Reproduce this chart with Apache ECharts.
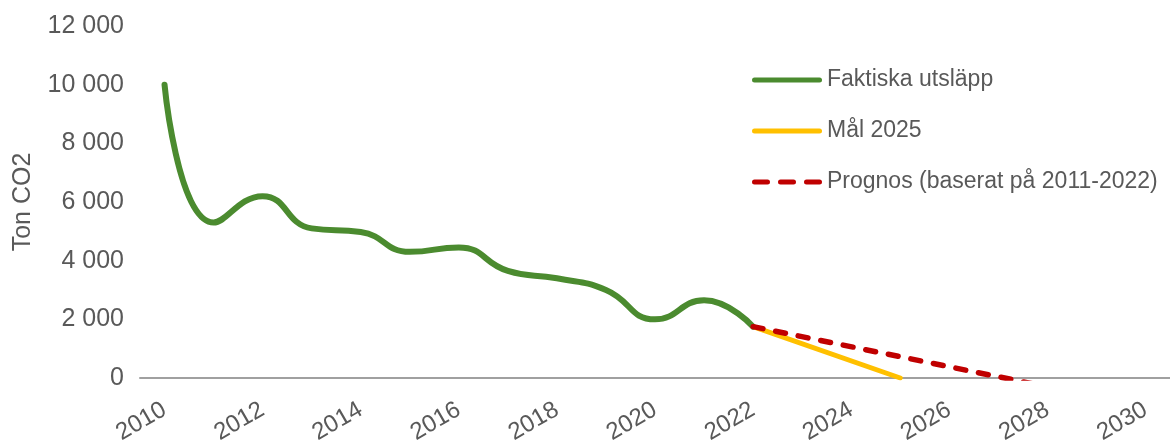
<!DOCTYPE html>
<html>
<head>
<meta charset="utf-8">
<script src="https://cdn.jsdelivr.net/npm/echarts@6/dist/echarts.min.js"></script>
<style>
html,body{margin:0;padding:0;background:#fff;}
#chart{width:1170px;height:443px;}
</style>
</head>
<body>
<div id="chart"></div>
<script>
var years = ['2010','2011','2012','2013','2014','2015','2016','2017','2018','2019','2020',
             '2021','2022','2023','2024','2025','2026','2027','2028','2029','2030'];
// faktiska utsläpp, ton CO2
var actual = [10000, 5300, 6200, 5100, 4980, 4300, 4450, 3650, 3400, 3000, 2000, 2650, 1750];
// mål 2025: från 2022 till noll 2025
var goal = [null,null,null,null,null,null,null,null,null,null,null,null, 1750, null, null, 0];
// prognos (linjär trend), klipps vid 0
var forecast = [null,null,null,null,null,null,null,null,null,null,null,null, 1750, null, null, null, null, null, -300];

var chart = echarts.init(document.getElementById('chart'));

var textColor = '#595959';
var font = 'Liberation Sans, Arial, sans-serif';
var green = '#4b8b2f', yellow = '#ffc000', red = '#c00000';

// legend-ikoner: heldragen linje resp. streckad
var solidIcon = 'path://M2.5,0h65a2.5,2.5 0 0 1 0,5h-65a2.5,2.5 0 0 1 0,-5z';
var dashIcon = 'path://M2.5,0h13a2.5,2.5 0 0 1 0,5h-13a2.5,2.5 0 0 1 0,-5z' +
               'M28.5,0h13a2.5,2.5 0 0 1 0,5h-13a2.5,2.5 0 0 1 0,-5z' +
               'M54.5,0h13a2.5,2.5 0 0 1 0,5h-13a2.5,2.5 0 0 1 0,-5z';

chart.setOption({
    backgroundColor: '#fff',
    animation: false,
    textStyle: { fontFamily: font, color: textColor },
    grid: { left: 140, right: 0, top: 26, bottom: 65, outerBoundsMode: 'none' },
    legend: {
        orient: 'vertical',
        left: 752,
        top: 68,
        padding: 0,
        itemWidth: 70,
        itemHeight: 5,
        itemGap: 27,
        textStyle: { fontSize: 23, lineHeight: 24, color: textColor, fontFamily: font },
        data: [
            { name: 'Faktiska utsläpp', icon: solidIcon },
            { name: 'Mål 2025', icon: solidIcon },
            { name: 'Prognos (baserat på 2011-2022)', icon: dashIcon }
        ]
    },
    xAxis: {
        type: 'category',
        data: years,
        boundaryGap: true,
        axisLine: { lineStyle: { color: '#a0a0a0', width: 2 } },
        axisTick: { show: false },
        axisLabel: { interval: 1, rotate: 30, fontSize: 24, color: textColor, margin: 30 }
    },
    yAxis: {
        type: 'value',
        min: 0,
        max: 12000,
        interval: 2000,
        name: 'Ton CO2',
        nameLocation: 'middle',
        nameGap: 104,
        nameRotate: 90,
        nameTextStyle: { fontSize: 25, color: textColor },
        axisLine: { show: false },
        axisTick: { show: false },
        splitLine: { show: false },
        axisLabel: {
            fontSize: 25, color: textColor, margin: 16,
            formatter: function (v) { return String(v).replace(/\B(?=(\d{3})+(?!\d))/g, ' '); }
        }
    },
    series: [
        {
            name: 'Faktiska utsläpp',
            type: 'line',
            data: actual,
            smooth: 0.5,
            symbol: 'none',
            z: 3,
            lineStyle: { color: green, width: 6, cap: 'round' },
            itemStyle: { color: green }
        },
        {
            name: 'Mål 2025',
            type: 'line',
            data: goal,
            connectNulls: true,
            symbol: 'none',
            z: 2,
            lineStyle: { color: yellow, width: 5, cap: 'round' },
            itemStyle: { color: yellow }
        },
        {
            name: 'Prognos (baserat på 2011-2022)',
            type: 'line',
            data: forecast,
            connectNulls: true,
            symbol: 'none',
            clip: true,
            z: 4,
            lineStyle: { color: red, width: 5.5, type: [10, 13], cap: 'round' },
            itemStyle: { color: red }
        }
    ]
});
</script>
</body>
</html>
